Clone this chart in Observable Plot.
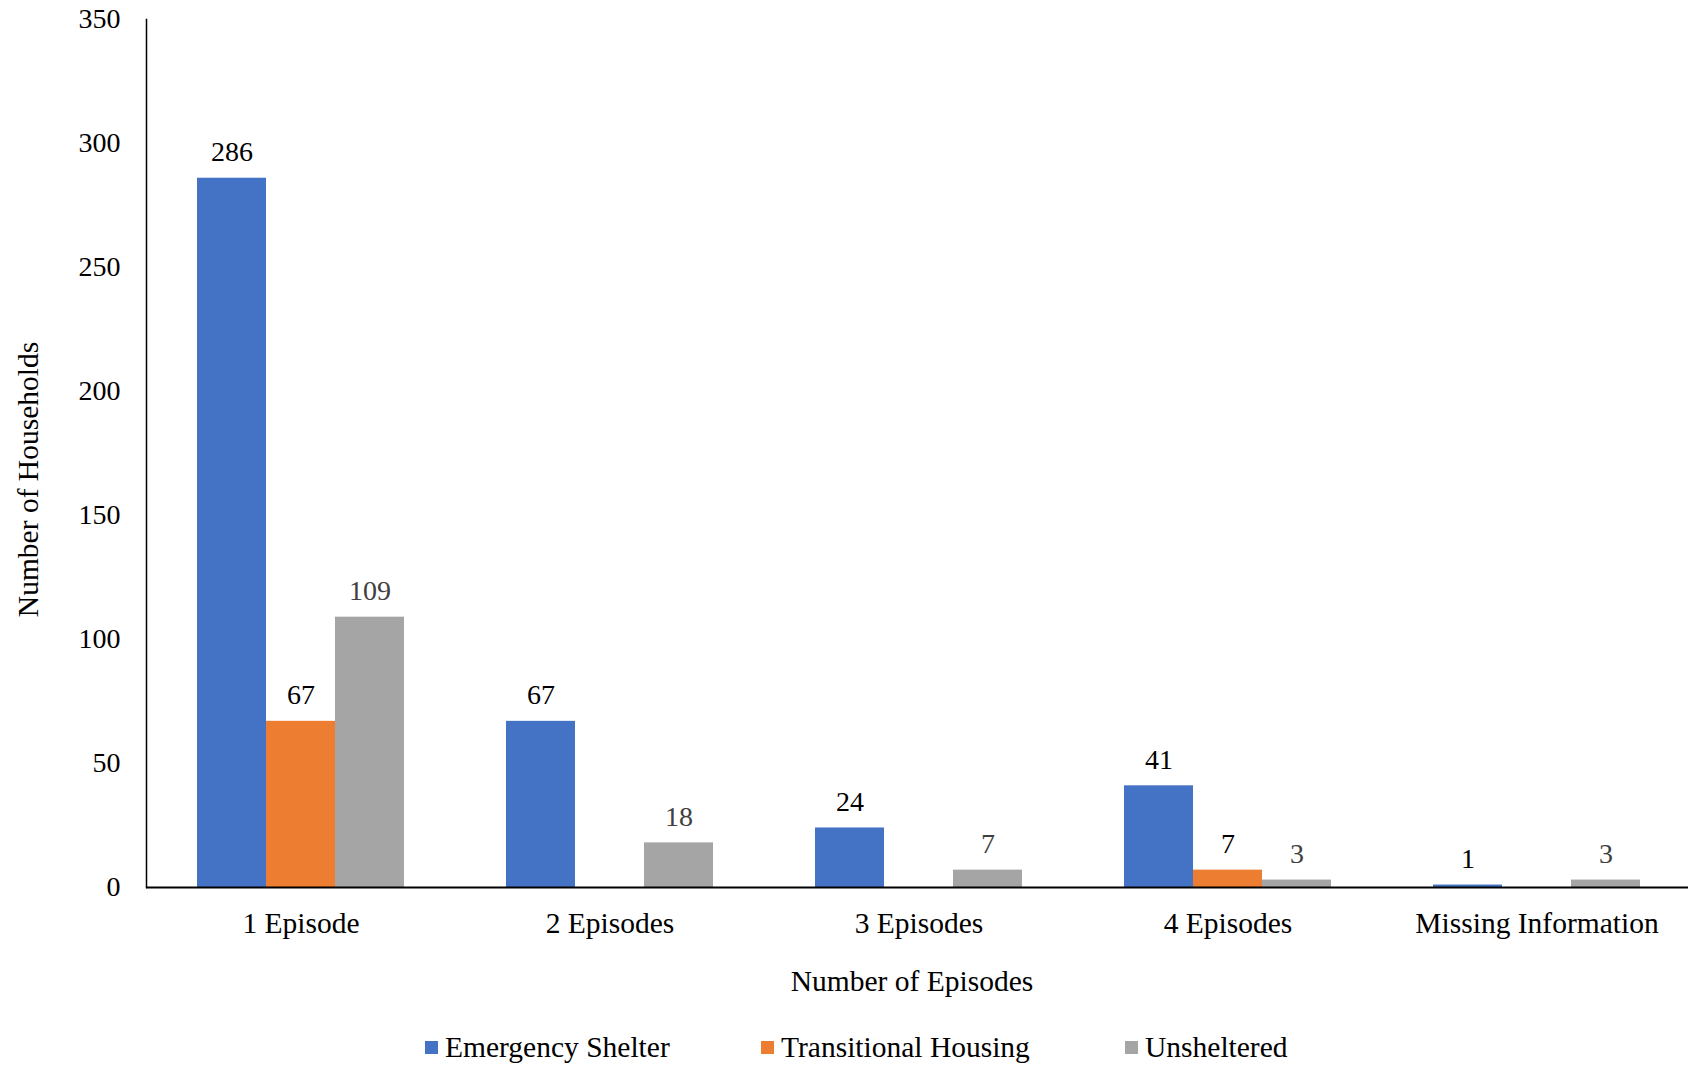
<!DOCTYPE html>
<html>
<head>
<meta charset="utf-8">
<script src="https://cdn.jsdelivr.net/npm/d3@7"></script>
<script src="https://cdn.jsdelivr.net/npm/@observablehq/plot@0.6"></script>
<style>
  html, body { margin: 0; padding: 0; background: #fff; overflow: hidden; }
  #chart { width: 1688px; font-family: "Liberation Serif", "Times New Roman", serif; }
  #legend { position: relative; width: 1688px; height: 56px; font-family: "Liberation Serif", "Times New Roman", serif; font-size: 29.5px; color: #000; }
  .item { position: absolute; top: 0; height: 74px; display: flex; align-items: center; }
  .sw { width: 13px; height: 13px; margin-right: 7px; }
</style>
</head>
<body>
<div id="chart"></div>
<div id="legend"></div>
<script>
const categories = ["1 Episode", "2 Episodes", "3 Episodes", "4 Episodes", "Missing Information"];
const series = ["Emergency Shelter", "Transitional Housing", "Unsheltered"];
const emergencyShelter = [286, 67, 24, 41, 1];
const transitionalHousing = [67, null, null, 7, null];
const unsheltered = [109, 18, 7, 3, 3];
const colors = ["#4472C4", "#ED7D31", "#A5A5A5"];
const yTicks = [0, 50, 100, 150, 200, 250, 300, 350];

const valuesBySeries = [emergencyShelter, transitionalHousing, unsheltered];
const data = [];
categories.forEach((c, i) => {
  series.forEach((s, j) => {
    const v = valuesBySeries[j][i];
    if (v != null) data.push({category: c, series: s, value: v});
  });
});

const serif = "'Liberation Serif', 'Times New Roman', serif";

const chart = Plot.plot({
  width: 1688,
  height: 1010,
  marginLeft: 145,
  marginRight: -3,
  marginTop: 19,
  marginBottom: 123,
  style: {fontSize: "28px", fontFamily: serif, color: "#000", background: "#fff", overflow: "hidden"},
  fx: {domain: categories, padding: 0, axis: null},
  x: {domain: series, paddingInner: 0, paddingOuter: 0.736, axis: null},
  y: {domain: [0, 350], axis: null},
  color: {domain: series, range: colors},
  marks: [
    Plot.axisY({ticks: yTicks, tickSize: 0, tickPadding: 26, label: null, fontSize: 28}),
    Plot.axisFx({anchor: "bottom", tickSize: 0, tickPadding: 25, fontSize: 29.5, label: null}),
    Plot.barY(data, {fx: "category", x: "series", y: "value", fill: "series"}),
    Plot.ruleY([0], {stroke: "#000", strokeWidth: 2}),
    Plot.frame({anchor: "left", facetAnchor: "left", stroke: "#000", strokeWidth: 1.5}),
    Plot.text(data, {fx: "category", x: "series", y: "value", text: d => String(d.value), lineAnchor: "bottom", dy: -17, fill: "#000", fontSize: 28, filter: d => d.series !== "Unsheltered"}),
    Plot.text(data, {fx: "category", x: "series", y: "value", text: d => String(d.value), lineAnchor: "bottom", dy: -17, fill: "#404040", fontSize: 28, filter: d => d.series === "Unsheltered"}),
    Plot.text(["Number of Episodes"], {fx: () => categories[2], frameAnchor: "bottom", lineAnchor: "bottom", dx: -7, dy: 103, fill: "#000", fontSize: 29.5}),
    Plot.text(["Number of Households"], {frameAnchor: "left", facetAnchor: "left", textAnchor: "middle", rotate: -90, dx: -118, dy: 26, fill: "#000", fontSize: 29.5})
  ]
});
document.getElementById("chart").appendChild(chart);

const legendPos = [425, 761, 1125];
const legend = document.getElementById("legend");
series.forEach((s, i) => {
  const item = document.createElement("div");
  item.className = "item";
  item.style.left = legendPos[i] + "px";
  const sw = document.createElement("span");
  sw.className = "sw";
  sw.style.background = colors[i];
  const t = document.createElement("span");
  t.textContent = s;
  item.appendChild(sw);
  item.appendChild(t);
  legend.appendChild(item);
});
</script>
</body>
</html>
